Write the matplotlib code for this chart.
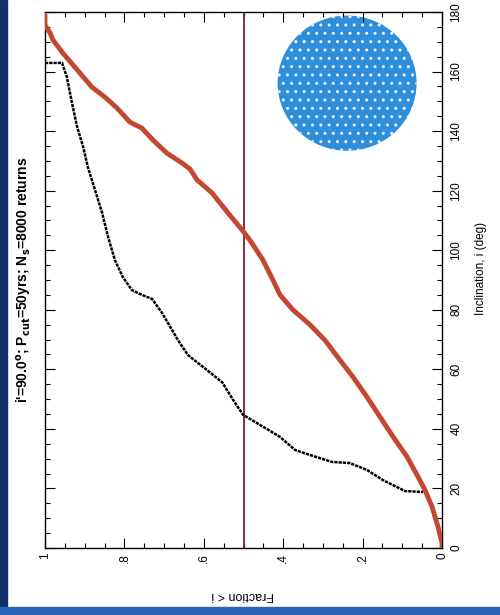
import numpy as np
import matplotlib.pyplot as plt
from matplotlib.patches import Ellipse, Rectangle
from matplotlib.ticker import MultipleLocator

plt.rcParams['font.family'] = ['Liberation Sans', 'DejaVu Sans']

# cumulative fraction of returns below inclination i (red: all, black: cut)
red_frac = [1.0, 1.0, 0.987, 0.980, 0.955, 0.912, 0.882, 0.849, 0.819, 0.786,
            0.756, 0.728, 0.693, 0.655, 0.635, 0.617, 0.579, 0.539, 0.501,
            0.484, 0.451, 0.426, 0.408, 0.375, 0.332, 0.295, 0.257, 0.224,
            0.189, 0.156, 0.123, 0.088, 0.060, 0.043, 0.025, 0.010, 0.0, 0.0]
red_incl = [179.0, 175.6, 172.9, 170.6, 166.2, 159.5, 154.8, 151.4, 147.8,
            143.0, 141.0, 137.0, 132.6, 129.3, 127.3, 123.6, 119.2, 112.5,
            106.4, 103.4, 96.7, 90.0, 85.0, 79.9, 74.9, 69.8, 63.1, 57.4,
            50.7, 44.0, 37.3, 30.6, 23.8, 19.5, 13.8, 7.1, 1.7, 0.0]

blk_frac = [1.0, 0.957, 0.945, 0.932, 0.919, 0.904, 0.892, 0.874, 0.856,
            0.841, 0.824, 0.804, 0.781, 0.761, 0.730, 0.705, 0.680, 0.665,
            0.640, 0.602, 0.554, 0.526, 0.501, 0.458, 0.408, 0.370, 0.332,
            0.277, 0.232, 0.189, 0.149, 0.093, 0.048]
blk_incl = [162.9, 162.9, 158.2, 149.4, 141.4, 134.7, 127.9, 120.2, 112.5,
            104.4, 96.7, 91.0, 86.6, 85.3, 83.6, 78.9, 73.2, 69.8, 64.8,
            60.8, 55.7, 49.7, 44.7, 41.3, 37.3, 32.9, 31.2, 28.9, 28.5,
            26.2, 22.8, 19.1, 18.8]

frac_ticks = [1.0, 0.8, 0.6, 0.4, 0.2, 0.0]
frac_labels = ['1', '.8', '.6', '.4', '.2', '0']
incl_ticks = [0, 20, 40, 60, 80, 100, 120, 140, 160, 180]

fig = plt.figure(figsize=(5, 6.15), dpi=100)
fig.patch.set_facecolor('white')
# slide border
fig.patches.append(Rectangle((0, 0), 0.014, 1, transform=fig.transFigure,
                             color='#13306a', zorder=0))
fig.patches.append(Rectangle((0, 0), 1, 0.013, transform=fig.transFigure,
                             color='#2a63b5', zorder=0))

ax = fig.add_axes([0.09, 0.109, 0.794, 0.8715])

# sky projection of the returns
ax.add_patch(Ellipse((0.239, 156.1), 2 * 0.175, 2 * 22.7,
                     facecolor='#2f8edb', edgecolor='#eef6ff', lw=0,
                     hatch='..', zorder=1))

ax.axvline(0.5, color='#7a2030', lw=1.3, zorder=2)
ax.plot(red_frac, red_incl, color='#c4472f', lw=3.5, solid_capstyle='round',
        zorder=3)
ax.plot(blk_frac, blk_incl, color='black', lw=1.8, linestyle=(0, (1.3, 0.4)),
        zorder=4)

ax.set_xlim(1, 0)
ax.set_ylim(0, 180)
ax.set_xticks(frac_ticks)
ax.set_xticklabels(frac_labels, rotation=90)
ax.set_yticks(incl_ticks)
ax.set_yticklabels([str(t) for t in incl_ticks], rotation=90, va='center')
ax.xaxis.set_minor_locator(MultipleLocator(0.05))
ax.yaxis.set_minor_locator(MultipleLocator(5))
ax.tick_params(which='both', direction='in', top=True, bottom=True,
               left=True, right=True, labelleft=False, labelright=True,
               width=0.8, labelsize=8.5)
ax.tick_params(which='major', length=7)
ax.tick_params(which='minor', length=3.5)
ax.tick_params(axis='y', pad=6)
for s in ax.spines.values():
    s.set_linewidth(1)

fig.text(481 / 500, 1 - 268 / 615, 'Inclination, i (deg)', rotation=90,
         ha='center', va='center', fontsize=8.5)
fig.text(243 / 500, 1 - 595 / 615, 'Fraction < i', rotation=180,
         ha='center', va='center', fontsize=9)
fig.text(25 / 500, 1 - 280 / 615,
         r"i'=90.0$^\mathbf{o}$; P$_\mathbf{cut}$=50yrs; "
         r"N$_\mathbf{s}$=8000 returns",
         rotation=90, ha='center', va='center', fontsize=10, fontweight='bold')

fig.savefig('out.png', dpi=100)
